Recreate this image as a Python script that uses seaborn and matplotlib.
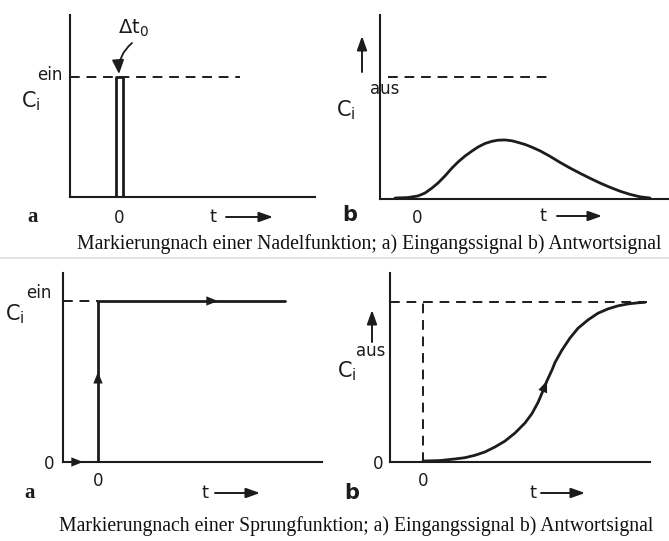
import matplotlib
matplotlib.use("Agg")
import matplotlib.pyplot as plt
import seaborn as sns

# Concentrations are normalised to the input level c_i^ein = 1, time in arbitrary units.
c_level = 1.0

# a) needle (pulse) input of width Δt0 around t = 0
pulse_t = [-0.07, -0.07, 0.07, 0.07]
pulse_c = [0.0, 1.0, 1.0, 0.0]

# b) response to the pulse
resp_pulse_t = [-0.44, -0.18, 0.02, 0.16, 0.30, 0.42, 0.56, 0.70, 0.82, 0.96,
                1.10, 1.22, 1.36, 1.50, 1.62, 1.76, 1.90, 2.02, 2.16, 2.28,
                2.46, 2.66, 2.86, 3.06, 3.26, 3.46, 3.66, 3.86, 4.06, 4.26,
                4.46, 4.66]
resp_pulse_c = [0.008, 0.012, 0.025, 0.049, 0.09, 0.131, 0.189, 0.254, 0.303, 0.352,
                0.393, 0.426, 0.455, 0.473, 0.482, 0.484, 0.477, 0.464, 0.447, 0.428,
                0.395, 0.350, 0.300, 0.254, 0.211, 0.170, 0.131, 0.096, 0.064, 0.038,
                0.018, 0.008]

# a) step input
step_t = [-0.70, 0.0, 0.0, 3.74]
step_c = [0.0, 0.0, 1.0, 1.0]

# b) response to the step
resp_step_t = [0.00, 0.34, 0.64, 0.84, 1.04, 1.24, 1.44, 1.64, 1.84, 2.04,
               2.18, 2.30, 2.40, 2.48, 2.58, 2.64, 2.78, 2.94, 3.10, 3.30,
               3.50, 3.70, 3.90, 4.10, 4.30, 4.44]
resp_step_c = [0.006, 0.009, 0.019, 0.027, 0.042, 0.063, 0.094, 0.131, 0.181, 0.244,
               0.303, 0.372, 0.445, 0.508, 0.575, 0.622, 0.700, 0.775, 0.836, 0.888,
               0.930, 0.957, 0.976, 0.988, 0.995, 0.998]

captions = [
    "Markierungnach einer Nadelfunktion; a) Eingangssignal b) Antwortsignal",
    "Markierungnach einer Sprungfunktion; a) Eingangssignal b) Antwortsignal",
]

W, H = 669, 541
INK = "#1c1c1c"

sns.set_theme(style="white")
plt.rcParams["font.family"] = ["DejaVu Sans"]
plt.rcParams["mathtext.fontset"] = "dejavusans"

fig = plt.figure(figsize=(W / 100, H / 100), dpi=100)
fig.patch.set_facecolor("white")

PX_PER_T = 50.0


def fx(px):
    return px / W


def fy(py):
    return 1 - py / H


def panel(left, right, top, bottom, t0_px, c1_px):
    ax = fig.add_axes([fx(left), fy(bottom), fx(right - left), (bottom - top) / H])
    ax.set_xlim((left - t0_px) / PX_PER_T, (right - t0_px) / PX_PER_T)
    ax.set_ylim(0, (bottom - top) / (bottom - c1_px))
    ax.set_facecolor("none")
    for s in ("top", "right"):
        ax.spines[s].set_visible(False)
    for s in ("left", "bottom"):
        ax.spines[s].set_color(INK)
        ax.spines[s].set_linewidth(1.5)
    ax.set_xticks([])
    ax.set_yticks([])
    ax.tick_params(length=0, labelsize=12, colors=INK)
    ax.set_xlabel("")
    ax.set_ylabel("")
    return ax


def mark_arrow(ax, p0, p1):
    ax.annotate("", xy=p1, xytext=p0,
                arrowprops=dict(arrowstyle="-|>,head_length=0.7,head_width=0.28",
                                color=INK, lw=0, shrinkA=0, shrinkB=0),
                zorder=5)


def fig_arrow(x0, x1, y0, y1, hl=0.7, hw=0.25, lw=1.4):
    fig.add_artist(matplotlib.patches.FancyArrowPatch(
        (fx(x0), fy(y0)), (fx(x1), fy(y1)), transform=fig.transFigure,
        arrowstyle=f"-|>,head_length={hl},head_width={hw}", mutation_scale=12,
        color=INK, lw=lw, shrinkA=0, shrinkB=0))


def t_arrow(xt, x0, x1, y):
    fig.text(fx(xt), fy(y), "t", ha="center", va="center", fontsize=13, color=INK)
    fig_arrow(x0, x1, y, y)


dash = dict(color=INK, lw=1.4, dashes=(5, 3.5))
line_kw = dict(color=INK, lw=2.0, estimator=None, sort=False, legend=False)

# ---------- panel 1: pulse input ----------
ax1 = panel(70, 315, 15, 197, 119.5, 77)
ax1.axhline(c_level, xmin=0, xmax=(240 - 70) / (315 - 70), **dash)
sns.lineplot(x=pulse_t, y=pulse_c, ax=ax1, **line_kw)
ax1.set_xticks([0])
ax1.set_xticklabels(["0"])
ax1.tick_params(axis="x", pad=9)
fig.text(fx(133), fy(28), r"$\Delta\mathrm{t}_\mathrm{0}$", ha="center", va="center",
         fontsize=14, color=INK)
fig.add_artist(matplotlib.patches.FancyArrowPatch(
    (fx(132), fy(43)), (fx(119), fy(74)), transform=fig.transFigure,
    connectionstyle="arc3,rad=0.25",
    arrowstyle="-|>,head_length=0.7,head_width=0.3", mutation_scale=12,
    color=INK, lw=1.3, shrinkA=0, shrinkB=0))
fig.text(fx(50), fy(75), "ein", ha="center", va="center", fontsize=12, color=INK)
fig.text(fx(31), fy(101), r"$\mathrm{C}_\mathrm{i}$", ha="center", va="center",
         fontsize=15, color=INK)
fig.text(fx(33), fy(217), "a", ha="center", va="center", fontsize=15,
         fontweight="bold", family="Liberation Serif", color=INK)
t_arrow(213, 226, 273, 217)

# ---------- panel 2: pulse response ----------
ax2 = panel(380, 668, 15, 199, 417, 77)
ax2.axhline(c_level, xmin=(388 - 380) / (668 - 380), xmax=(553 - 380) / (668 - 380), **dash)
sns.lineplot(x=resp_pulse_t, y=resp_pulse_c, ax=ax2, **line_kw)
ax2.set_xticks([0])
ax2.set_xticklabels(["0"])
ax2.tick_params(axis="x", pad=7)
fig_arrow(362, 362, 72, 36)
fig.text(fx(385), fy(89), "aus", ha="center", va="center", fontsize=12, color=INK)
fig.text(fx(346), fy(110), r"$\mathrm{C}_\mathrm{i}$", ha="center", va="center",
         fontsize=15, color=INK)
fig.text(fx(350), fy(215), "b", ha="center", va="center", fontsize=15,
         fontweight="bold", color=INK)
t_arrow(543, 557, 602, 216)

# ---------- panel 3: step input ----------
ax3 = panel(63, 322, 273, 462, 98, 301)
ax3.plot([ax3.get_xlim()[0], step_t[1]], [c_level, c_level], **dash)
sns.lineplot(x=step_t, y=step_c, ax=ax3, **line_kw)
mark_arrow(ax3, (-0.46, 0.0), (-0.30, 0.0))
mark_arrow(ax3, (0.0, 0.44), (0.0, 0.56))
mark_arrow(ax3, (2.22, c_level), (2.40, c_level))
ax3.set_xticks([0])
ax3.set_xticklabels(["0"])
ax3.set_yticks([0])
ax3.set_yticklabels(["0"])
ax3.tick_params(axis="x", pad=7)
ax3.tick_params(axis="y", pad=6)
fig.text(fx(15), fy(314), r"$\mathrm{C}_\mathrm{i}$", ha="center", va="center",
         fontsize=15, color=INK)
fig.text(fx(39), fy(293), "ein", ha="center", va="center", fontsize=12, color=INK)
fig.text(fx(30), fy(493), "a", ha="center", va="center", fontsize=15,
         fontweight="bold", family="Liberation Serif", color=INK)
t_arrow(205, 215, 260, 493)

# ---------- panel 4: step response ----------
ax4 = panel(390, 650, 273, 462, 423, 302)
ax4.plot([ax4.get_xlim()[0], 4.48], [c_level, c_level], **dash)
ax4.plot([0, 0], [0, c_level], **dash)
sns.lineplot(x=resp_step_t, y=resp_step_c, ax=ax4, **line_kw)
k = 13
mark_arrow(ax4, (resp_step_t[k - 1], resp_step_c[k - 1]), (resp_step_t[k], resp_step_c[k]))
ax4.set_xticks([0])
ax4.set_xticklabels(["0"])
ax4.set_yticks([0])
ax4.set_yticklabels(["0"])
ax4.tick_params(axis="x", pad=7)
ax4.tick_params(axis="y", pad=5)
fig_arrow(372, 372, 342, 310)
fig.text(fx(371), fy(351), "aus", ha="center", va="center", fontsize=12, color=INK)
fig.text(fx(347), fy(371), r"$\mathrm{C}_\mathrm{i}$", ha="center", va="center",
         fontsize=15, color=INK)
fig.text(fx(352), fy(493), "b", ha="center", va="center", fontsize=15,
         fontweight="bold", color=INK)
t_arrow(533, 541, 585, 493)

# ---------- captions and separator ----------
fig.text(fx(369), fy(244), captions[0], ha="center", va="center", fontsize=14.2,
         family="Liberation Serif", color="#111111")
fig.add_artist(matplotlib.lines.Line2D([0, 1], [fy(258), fy(258)], transform=fig.transFigure,
                                       color="#dddddd", lw=1.2))
fig.text(fx(356), fy(526), captions[1], ha="center", va="center", fontsize=14.2,
         family="Liberation Serif", color="#111111")

fig.savefig("out.png", dpi=100, facecolor="white")
